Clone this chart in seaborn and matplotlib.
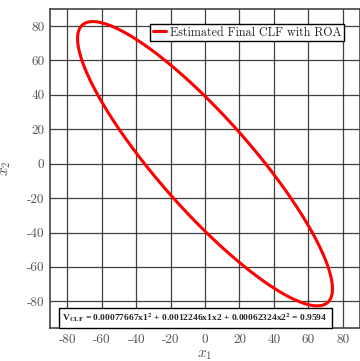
import numpy as np
import pandas as pd
import seaborn as sns
import matplotlib.pyplot as plt

# CLF coefficients: V = a*x1^2 + b*x1*x2 + c*x2^2 = level
coef_x1x1 = 0.00077667
coef_x1x2 = 0.0012246
coef_x2x2 = 0.00062324
level = 0.9594

x_ticks = [-80, -60, -40, -20, 0, 20, 40, 60, 80]
y_ticks = [-80, -60, -40, -20, 0, 20, 40, 60, 80]

# boundary of the level set, traced by angle
theta = np.linspace(0, 2 * np.pi, 721)
ct, st = np.cos(theta), np.sin(theta)
r = np.sqrt(level / (coef_x1x1 * ct**2 + coef_x1x2 * ct * st + coef_x2x2 * st**2))
df = pd.DataFrame({'x1': r * ct, 'x2': r * st, 'idx': np.arange(len(theta))})

sns.set_style('white')
plt.rcParams['mathtext.fontset'] = 'cm'
plt.rcParams['font.family'] = ['cmr10', 'DejaVu Serif']
plt.rcParams['axes.unicode_minus'] = False
plt.rcParams['axes.formatter.use_mathtext'] = False

fig = plt.figure(figsize=(3.6, 3.61), dpi=100)
ax = fig.add_axes([0.139, 0.0914, 0.861, 0.884])

sns.lineplot(data=df, x='x1', y='x2', sort=False, estimator=None, color='red',
             linewidth=2.2, ax=ax, label='Estimated Final CLF with ROA')

ax.set_xlim(-90, 90)
ax.set_ylim(-95.5, 90)
ax.set_xticks(x_ticks)
ax.set_yticks(y_ticks)
ax.set_xticklabels([str(t) for t in x_ticks])
ax.set_yticklabels([str(t) for t in y_ticks])
ax.tick_params(labelsize=9.5, colors='#555555', length=0, pad=4)
ax.grid(True, color='black', linewidth=0.9, alpha=0.75)
for s in ax.spines.values():
    s.set_color('#444444')
    s.set_linewidth(1.2)

ax.set_xlabel('$x_1$', fontsize=11, color='#555555', labelpad=2)
ax.set_ylabel('$x_2$', fontsize=11, color='#555555', labelpad=10)

leg = ax.legend(loc='upper right', bbox_to_anchor=(0.947, 0.952), fontsize=8.7,
                frameon=True, fancybox=False, edgecolor='black', framealpha=1,
                handlelength=1.1, handletextpad=0.3, borderpad=0.2, borderaxespad=0)
leg.get_frame().set_linewidth(1.0)

eq = (r'V$_{\mathbf{CLF}}$ = 0.00077667x1$^{\mathbf{2}}$ + 0.0012246x1x2'
      r' + 0.00062324x2$^{\mathbf{2}}$ = 0.9594')
ax.text(0.04, 0.012, eq, transform=ax.transAxes, fontsize=6.8, fontweight='bold',
        family='Liberation Serif', math_fontfamily='stix', va='bottom', ha='left',
        bbox=dict(boxstyle='square,pad=0.4', facecolor='white', edgecolor='black', linewidth=1.0))

fig.savefig('out.png', dpi=100)
